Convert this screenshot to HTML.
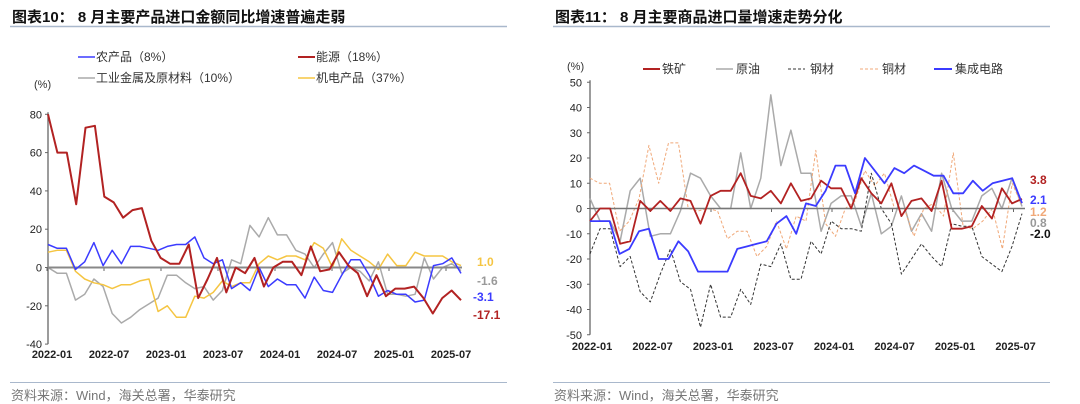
<!DOCTYPE html>
<html><head><meta charset="utf-8"><style>
body{margin:0;background:#fff;width:1080px;height:404px;overflow:hidden}
svg{display:block;font-family:"Liberation Sans","Noto Sans CJK SC",sans-serif}
</style></head><body>
<svg id="s" width="1080" height="404" xmlns="http://www.w3.org/2000/svg">
<g font-weight="bold" font-size="15" fill="#111">
<text x="12" y="22">图表10：  8 月主要产品进口金额同比增速普遍走弱</text>
<text x="555" y="22">图表11：   8 月主要商品进口量增速走势分化</text>
</g>
<line x1="10" y1="26.5" x2="507" y2="26.5" stroke="#a9b8cc" stroke-width="1.5"/>
<line x1="553" y1="26.5" x2="1050" y2="26.5" stroke="#a9b8cc" stroke-width="1.5"/>
<line x1="10" y1="382.5" x2="507" y2="382.5" stroke="#a9b8cc" stroke-width="1"/>
<line x1="553" y1="382.5" x2="1050" y2="382.5" stroke="#a9b8cc" stroke-width="1"/>
<g font-size="13" fill="#777"><text x="11" y="400">资料来源：Wind，海关总署，华泰研究</text><text x="554" y="400">资料来源：Wind，海关总署，华泰研究</text></g>
<g font-size="12" fill="#333">
<line x1="78" y1="57" x2="95" y2="57" stroke="#3b3bff" stroke-width="1.5"/><text x="96" y="61">农产品（8%）</text>
<line x1="298" y1="57" x2="315" y2="57" stroke="#b22222" stroke-width="2"/><text x="316" y="61">能源（18%）</text>
<line x1="78" y1="78" x2="95" y2="78" stroke="#aaa" stroke-width="1.5"/><text x="96" y="82">工业金属及原材料（10%）</text>
<line x1="298" y1="78" x2="315" y2="78" stroke="#f5c542" stroke-width="1.5"/><text x="316" y="82">机电产品（37%）</text>
<text x="34" y="88" font-size="11">(%)</text>
</g>
<g font-size="11" fill="#222" text-anchor="end" id="y1"></g>
<g font-size="11" fill="#222" font-weight="bold" text-anchor="middle" id="x1"></g>
<g font-size="12" fill="#333">
<text x="567" y="70" font-size="11">(%)</text>
<line x1="643" y1="69" x2="660" y2="69" stroke="#b22222" stroke-width="2"/><text x="662" y="73">铁矿</text>
<line x1="716" y1="69" x2="733" y2="69" stroke="#aaa" stroke-width="1.5"/><text x="736" y="73">原油</text>
<line x1="788" y1="69" x2="805" y2="69" stroke="#333" stroke-width="1" stroke-dasharray="3,2"/><text x="810" y="73">钢材</text>
<line x1="860" y1="69" x2="878" y2="69" stroke="#f0a878" stroke-width="1" stroke-dasharray="3,2"/><text x="882" y="73">铜材</text>
<line x1="934" y1="69" x2="952" y2="69" stroke="#3b3bff" stroke-width="2"/><text x="955" y="73">集成电路</text>
</g>
<g font-size="11" fill="#222" text-anchor="end" id="y2"></g>
<g font-size="11" fill="#222" font-weight="bold" text-anchor="middle" id="x2"></g>
<g id="p"></g>
<g font-size="12" font-weight="bold">
<text x="477" y="266" fill="#f5c542">1.0</text>
<text x="477" y="285" fill="#999">-1.6</text>
<text x="473" y="301" fill="#3b3bff">-3.1</text>
<text x="473" y="319" fill="#b22222">-17.1</text>
<text x="1030" y="184" fill="#b22222">3.8</text>
<text x="1030" y="204" fill="#3b3bff">2.1</text>
<text x="1030" y="216" fill="#f0a878">1.2</text>
<text x="1030" y="227" fill="#999">0.8</text>
<text x="1030" y="238" fill="#111">-2.0</text>
</g>
</svg>
<script>
var NS="http://www.w3.org/2000/svg",s=document.getElementById('s');
function el(p,t,a,txt){var e=document.createElementNS(NS,t);for(var k in a)e.setAttribute(k,a[k]);if(txt!=null)e.textContent=txt;document.getElementById(p).appendChild(e);return e;}
var y1=function(v){return 267.5-v*1.915};
el('p','line',{x1:48,y1:y1(80)-2,x2:48,y2:y1(-40),stroke:'#666','stroke-width':1.3});
for(var v=-40;v<=80;v+=20){el('y1','text',{x:42,y:y1(v)+4},v);el('p','line',{x1:45,y1:y1(v),x2:48,y2:y1(v),stroke:'#666'});}
var L1=['2022-01','2022-07','2023-01','2023-07','2024-01','2024-07','2025-01','2025-07'];
for(var i=0;i<8;i++){var x=47+i*57;el('x1','text',{x:x+5,y:358},L1[i]);el('p','line',{x1:x,y1:267.5,x2:x,y2:271,stroke:'#666'});}
function series(vals,x0,x1,yf,col,w,dash){var n=vals.length,pts=[];for(var i=0;i<n;i++)pts.push((x0+(x1-x0)*i/(n-1)).toFixed(1)+','+yf(vals[i]).toFixed(1));var a={points:pts.join(' '),fill:'none',stroke:col,'stroke-width':w,'stroke-linejoin':'round'};if(dash)a['stroke-dasharray']=dash;el('p','polyline',a);}
var gray1=[0,-3,-3,-17,-14,-6,-10,-24,-29,-26,-22,-19,-16,-4,-4,-8,-11,-10,-17,-12,4,2,22,16,26,17,17,9,7,0,7,13,-3,0,-2,-7,3,-14,-14,-15,-14,5,-6,0,2,-1.6];
var yel1=[8,9,9,-2,-6,-8,-9,-11,-9,-9,-7,-6,-23,-20,-26,-26,-15,-16,-13,-7,-10,-8,-8,2,6,4,6,6,4,13,10,0,15,9,6,3,-1,7,1,1,8,6,6,6,3,1.0];
var blu1=[12,10,10,-1,3,13,1,9,2,11,11,10,9,11,12,12,16,5,2,4,-11,-8,-12,0,-10,-6,-9,-9,-16,-5,-12,-13,-4,4,4,-4,-15,-12,-14,-14,-18,-17,1,2,5,-3.1];
var red1=[80,60,60,33,73,74,37,34,26,30,31,14,5,2,2,12,-16,-6,5,-13,0,-3,5,-10,0,3,3,-4,11,-2,-1,8,1,-3,-15,-4,-15,-11,-11,-10,-16,-24,-16,-12,-17.1];
series(gray1,48,461,y1,'#aaa',1.5);series(yel1,48,461,y1,'#f5c542',1.5);
el('p','line',{x1:48,y1:267.5,x2:462,y2:267.5,stroke:'#888','stroke-width':2});
series(blu1,48,461,y1,'#3b3bff',1.5);series(red1,48,461,y1,'#b22222',2);
var y2=function(v){return 208.5-v*2.525};
el('p','line',{x1:590,y1:y2(50)-2,x2:590,y2:y2(-50),stroke:'#666','stroke-width':1.3});
for(var v=-50;v<=50;v+=10){el('y2','text',{x:582,y:y2(v)+4},v);el('p','line',{x1:587,y1:y2(v),x2:590,y2:y2(v),stroke:'#666'});}
for(var i=0;i<8;i++){var x=590+i*60.5;el('x2','text',{x:x+2,y:350},L1[i]);el('p','line',{x1:x,y1:208.5,x2:x,y2:212,stroke:'#666'});}
var blk=[-18,-8,-8,-23,-19,-33,-37,-26,-16,-29,-32,-47,-30,-43,-43,-32,-38,-22,-23,-14,-28,-28,-13,-18,-5,-8,-8,-9,14,0,-6,-26,-20,-14,-19,-23,-6,-7,-7,-19,-22,-25,-15,-2.0];
var org=[12,10,10,-9,-5,4,25,10,26,26,0,-1,0,-1,-12,-9,-9,-19,-15,-5,-16,-3,-5,23,-6,-11,0,3,15,9,14,0,0,-11,0,2,-3,22,-7,-8,-5,0,-16,10,1.2];
var gry=[4,-5,-5,-13,7,12,-11,-10,-10,-1,14,12,5,0,0,22,0,12,45,17,31,14,14,-9,2,5,5,-7,6,-10,-7,5,-9,-2,-9,14,0,-5,-5,5,8,0,12,0.8];
var ic=[-5,-5,-5,-18,-16,-9,-8,-20,-20,-13,-17,-25,-25,-25,-25,-16,-15,-14,-13,-6,-3,-10,2,1,7,17,17,6,20,15,10,16,14,17,15,13,13,6,6,11,7,10,11,12,2.1];
var ore=[-5,0,0,-14,-13,3,-1,3,-1,4,3,-6,5,7,7,14,5,4,7,2,10,3,4,11,8,8,0,12,6,2,10,-3,3,4,-1,11,-8,-8,-7,1,-4,8,2,3.8];
series(gry,590,1022,y2,'#aaa',1.5);series(org,590,1022,y2,'#f0a878',1,'3,2');series(blk,590,1022,y2,'#333',1,'3,2');
el('p','line',{x1:590,y1:208.5,x2:1025,y2:208.5,stroke:'#777','stroke-width':1.5});
series(ore,590,1022,y2,'#b22222',1.8);series(ic,590,1022,y2,'#3b3bff',1.8);
</script>
</body></html>
